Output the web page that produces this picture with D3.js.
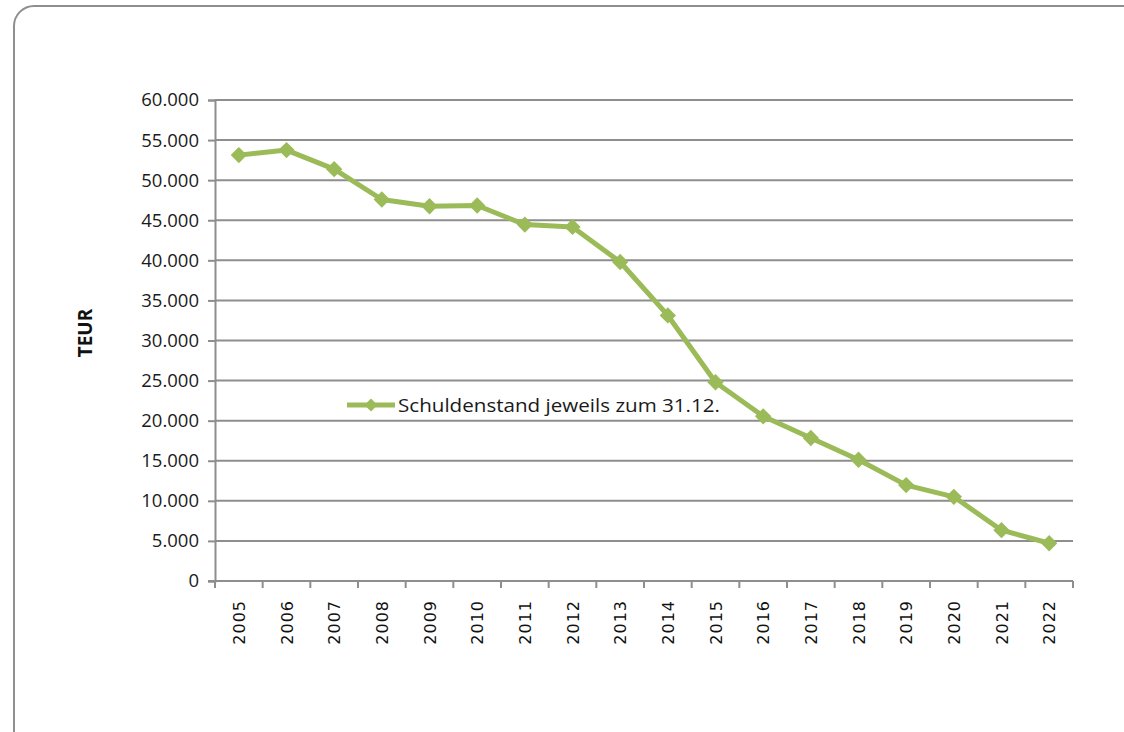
<!DOCTYPE html>
<html>
<head>
<meta charset="utf-8">
<script src="https://cdn.jsdelivr.net/npm/d3@7"></script>
<style>
  body { margin: 0; background: #fff; }
  svg { display: block; }
</style>
</head>
<body>
<div id="chart"></div>
<script>
// data
const years = ["2005", "2006", "2007", "2008", "2009", "2010", "2011", "2012", "2013",
  "2014", "2015", "2016", "2017", "2018", "2019", "2020", "2021", "2022"];
const schulden = [53125, 53750, 51375, 47590, 46750, 46840, 44460, 44170, 39790,
  33125, 24790, 20540, 17840, 15125, 11960, 10500, 6340, 4710];
const yTicks = [0, 5000, 10000, 15000, 20000, 25000, 30000, 35000, 40000, 45000, 50000, 55000, 60000];
const seriesName = "Schuldenstand jeweils zum 31.12.";
const yTitle = "TEUR";

const W = 1124, H = 732;
let margin = {top: 100, left: 215, right: 51, bottom: 151};
const green = "#9bbb59", grid = "#8e8e8e";

const svg = d3.select("#chart").append("svg")
  .attr("width", W).attr("height", H);

// rounded frame, running off the right and bottom edge
svg.append("rect")
  .attr("x", 14).attr("y", 6)
  .attr("width", W + 40).attr("height", H + 40)
  .attr("rx", 20).attr("ry", 20)
  .attr("fill", "none").attr("stroke", "#8f8f8f").attr("stroke-width", 2);

let x = d3.scaleBand()
  .domain(years)
  .range([margin.left, W - margin.right]);

let y = d3.scaleLinear()
  .domain([0, 60000])
  .range([H - margin.bottom, margin.top]);

const fmt = d => d3.format(",")(d).replace(/,/g, ".");

// gridlines
svg.append("g")
  .selectAll("line")
  .data(yTicks.filter(d => d > 0))
  .join("line")
  .attr("x1", margin.left).attr("x2", W - margin.right)
  .attr("y1", d => y(d)).attr("y2", d => y(d))
  .attr("stroke", grid).attr("stroke-width", 2);

// y axis
const yAxis = svg.append("g")
  .attr("transform", `translate(${margin.left},0)`)
  .call(d3.axisLeft(y).tickValues(yTicks).tickFormat(fmt).tickSize(7).tickPadding(9));
yAxis.select(".domain").attr("stroke", grid).attr("stroke-width", 2);
yAxis.selectAll(".tick line").attr("stroke", grid).attr("stroke-width", 2);
yAxis.selectAll("text")
  .attr("fill", "#1a1a1a")
  .style("font-family", "'Open Sans', sans-serif")
  .style("font-size", "18.5px");

// x axis, ticks between the categories
const xAxis = svg.append("g")
  .attr("transform", `translate(0,${H - margin.bottom})`);
xAxis.append("line")
  .attr("x1", margin.left - 7).attr("x2", W - margin.right)
  .attr("stroke", grid).attr("stroke-width", 2);
xAxis.selectAll("line.tk")
  .data(years.concat(["end"]))
  .join("line")
  .attr("class", "tk")
  .attr("x1", (d, i) => i < years.length ? x(d) : x(years[years.length - 1]) + x.bandwidth())
  .attr("x2", (d, i) => i < years.length ? x(d) : x(years[years.length - 1]) + x.bandwidth())
  .attr("y1", 0).attr("y2", 7)
  .attr("stroke", grid).attr("stroke-width", 2);
xAxis.selectAll("text")
  .data(years)
  .join("text")
  .attr("transform", d => `translate(${x(d) + x.bandwidth() / 2 + 6},${19}) rotate(-90)`)
  .attr("text-anchor", "end")
  .attr("fill", "#111")
  .style("font-family", "'DejaVu Sans', sans-serif")
  .style("font-size", "16px")
  .style("letter-spacing", "1px")
  .text(d => d);

// y title
svg.append("text")
  .attr("transform", `translate(${92},${333}) rotate(-90)`)
  .attr("text-anchor", "middle")
  .attr("fill", "#111")
  .style("font-family", "'Open Sans', sans-serif")
  .style("font-weight", "bold")
  .style("font-size", "19px")
  .text(yTitle);

// the line
const line = d3.line()
  .x((d, i) => x(years[i]) + x.bandwidth() / 2)
  .y(d => y(d));

svg.append("path")
  .datum(schulden)
  .attr("d", line)
  .attr("fill", "none")
  .attr("stroke", green)
  .attr("stroke-width", 5)
  .attr("stroke-linejoin", "round");

const diamond = d3.symbol().type(d3.symbolDiamond2).size(170);
svg.append("g")
  .selectAll("path")
  .data(schulden)
  .join("path")
  .attr("d", diamond)
  .attr("transform", (d, i) => `translate(${x(years[i]) + x.bandwidth() / 2},${y(d)})`)
  .attr("fill", green);

// legend inside plot
const lg = svg.append("g").attr("transform", "translate(347,405)");
lg.append("line")
  .attr("x1", 0).attr("x2", 48)
  .attr("stroke", green).attr("stroke-width", 5);
lg.append("path")
  .attr("d", d3.symbol().type(d3.symbolDiamond2).size(110))
  .attr("transform", "translate(24,0)")
  .attr("fill", green);
lg.append("text")
  .attr("x", 51).attr("y", 7)
  .attr("fill", "#1a1a1a")
  .style("font-family", "'Open Sans', sans-serif")
  .style("font-size", "18px")
  .attr("textLength", 322)
  .attr("lengthAdjust", "spacingAndGlyphs")
  .text(seriesName);
</script>
</body>
</html>
